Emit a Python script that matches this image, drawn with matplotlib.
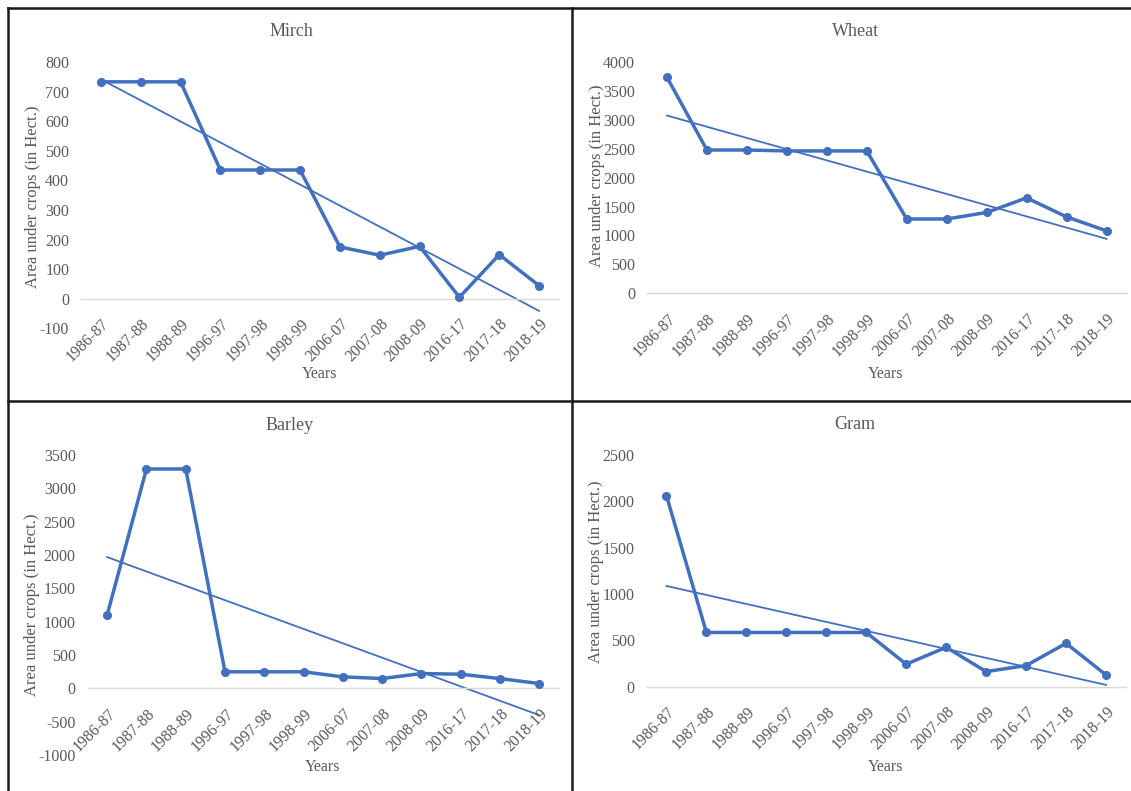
import numpy as np
import matplotlib
matplotlib.use("Agg")
import matplotlib.pyplot as plt
from matplotlib.lines import Line2D

plt.rcParams["font.family"] = ["Liberation Serif", "DejaVu Serif"]

years = ["1986-87", "1987-88", "1988-89", "1996-97", "1997-98", "1998-99",
         "2006-07", "2007-08", "2008-09", "2016-17", "2017-18", "2018-19"]

mirch = [733, 733, 733, 435, 435, 435, 175, 147, 177, 5, 149, 44]
wheat = [3735, 2478, 2478, 2462, 2462, 2462, 1285, 1285, 1398, 1650, 1322, 1080]
barley = [1100, 3290, 3290, 248, 248, 248, 172, 147, 222, 212, 146, 72]
gram = [2060, 585, 585, 585, 585, 585, 243, 425, 163, 228, 468, 127]

mirch_ticks = list(range(-100, 801, 100))
wheat_ticks = list(range(0, 4001, 500))
barley_ticks = list(range(-1000, 3501, 500))
gram_ticks = list(range(0, 2501, 500))

W, H = 1131, 791
fig = plt.figure(figsize=(W / 100, H / 100), dpi=100)
fig.patch.set_facecolor("white")

LINE = "#4170C0"
TEXT = "#595959"


def px_axes(left, right, top, bottom):
    return fig.add_axes([left / W, 1 - bottom / H, (right - left) / W, (bottom - top) / H])


def panel(box, title, values, ticks, title_xy, ylab_xy, xlab_xy):
    ax = px_axes(*box)
    x = np.arange(len(values))
    ax.set_xlim(-0.5, len(values) - 0.5)
    ax.set_ylim(ticks[0], ticks[-1])
    for s in ("top", "right", "left"):
        ax.spines[s].set_visible(False)
    ax.spines["bottom"].set_position(("data", 0))
    ax.spines["bottom"].set_color("#D9D9D9")
    ax.spines["bottom"].set_linewidth(1.0)
    ax.set_xticks([])
    ax.set_yticks(ticks)
    ax.set_yticklabels([str(t) for t in ticks])
    ax.tick_params(axis="y", length=0, pad=8.5, labelsize=11.5, labelcolor=TEXT)

    # trend line from a least-squares fit over the category index
    k, b = np.polyfit(x, values, 1)
    ax.plot(x, k * x + b, color=LINE, lw=1.3, zorder=2)
    ax.plot(x, values, color=LINE, lw=2.5, marker="o", ms=5.5, zorder=3,
            solid_joinstyle="round")

    for i, lab in enumerate(years):
        ax.annotate(lab, xy=(i, 0), xytext=(6, -23), textcoords="offset pixels",
                    rotation=45, ha="right", va="center", rotation_mode="anchor",
                    fontsize=11.5, color=TEXT, annotation_clip=False)

    fig.text(title_xy[0] / W, 1 - title_xy[1] / H, title, ha="center", va="center",
             fontsize=13, color=TEXT)
    fig.text(ylab_xy[0] / W, 1 - ylab_xy[1] / H, "Area under crops (in Hect.)",
             ha="center", va="center", rotation=90, fontsize=12, color=TEXT)
    fig.text(xlab_xy[0] / W, 1 - xlab_xy[1] / H, "Years", ha="center", va="center",
             fontsize=11.5, color=TEXT)
    return ax


panel((81, 559, 62, 328.3), "Mirch", mirch, mirch_ticks,
      (291, 32), (33, 197), (320, 374))
panel((647, 1126.5, 62, 293.3), "Wheat", wheat, wheat_ticks,
      (856, 32), (597, 176), (886, 374))
panel((87.5, 559, 455, 755), "Barley", barley, barley_ticks,
      (290, 426), (32, 605), (323, 767))
panel((646.5, 1126, 455, 686.7), "Gram", gram, gram_ticks,
      (855, 425), (596, 572), (886, 767))

# panel frames
frame = dict(color="#1a1a1a", lw=1.8, transform=fig.transFigure)
for (x0, y0, x1, y1) in [(8, 8, W, 8), (8, 8, 8, H), (572, 8, 572, H), (8, 401, W, 401)]:
    fig.add_artist(Line2D([x0 / W, x1 / W], [1 - y0 / H, 1 - y1 / H], **frame))

fig.savefig("out.png", dpi=100, facecolor="white")
